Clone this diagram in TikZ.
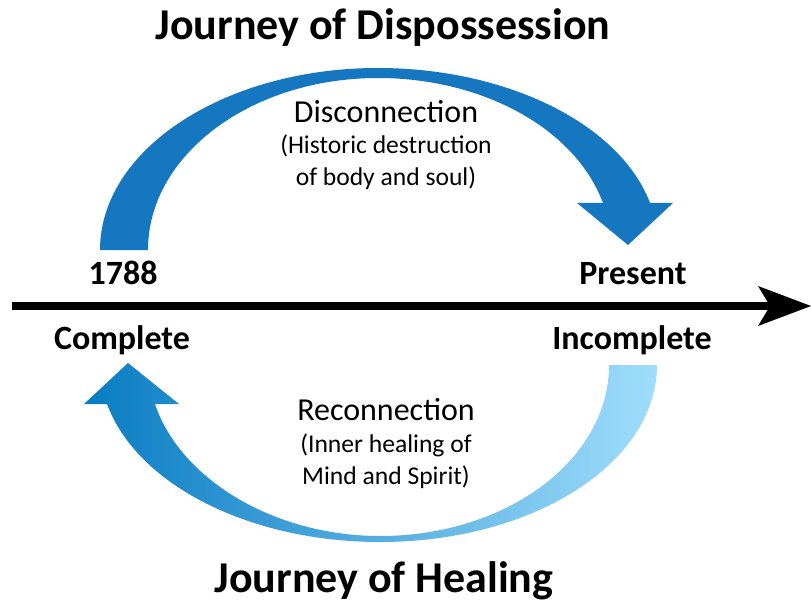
\documentclass[tikz,border=0pt]{standalone}
\usepackage{fontspec}
\setmainfont{Carlito}
\definecolor{topblue}{RGB}{21,119,192}
\definecolor{botdark}{RGB}{8,124,194}
\definecolor{botmid}{RGB}{35,158,218}
\definecolor{botlight}{RGB}{160,221,252}
\tikzset{
  title/.style={font=\fontsize{44}{50}\selectfont\bfseries, anchor=base, inner sep=0pt},
  lbl/.style={font=\fontsize{34}{40}\selectfont\bfseries, anchor=base, inner sep=0pt},
  head/.style={font=\fontsize{32}{38}\selectfont, anchor=base, inner sep=0pt},
  sub/.style={font=\fontsize{25.6}{31}\selectfont, anchor=base, inner sep=0pt}
}
\begin{document}
\begin{tikzpicture}[x=1pt,y=-1pt]
\useasboundingbox (0,0) rectangle (811,604);
% top arrow
\fill[topblue] (100,250) .. controls (100,149.5) and (224.5,68) .. (378,68)
  .. controls (507,68) and (620,124) .. (650,203) -- (673,203) -- (628,245)
  -- (577,203) -- (603,203) .. controls (575,128) and (482,78) .. (378,78)
  .. controls (251,78) and (148,155) .. (148,250) -- cycle;
% bottom arrow
\shade[left color=botdark, middle color=botmid, right color=botlight]
  (657,365) .. controls (657,463) and (533.5,542) .. (380,542)
  .. controls (250,542) and (137,485) .. (107,404) -- (84,404) -- (128,363)
  -- (179,404) -- (155,404) .. controls (180,479) and (274,536) .. (380,536)
  .. controls (507,536) and (609,459.4) .. (609,365) -- cycle;
% axis
\coordinate (axL) at (12,306);
\coordinate (axR) at (772,306);
\coordinate (axT) at (811,306);
\draw[line width=7.5pt] (axL) -- (axR);
\fill (axT) -- (758,286) -- (770,306) -- (758,326) -- cycle;
% texts
\node[title] (t1) at (383,40) {Journey of Dispossession};
\node[title] (t2) at (384,592) {Journey of Healing};
\node[lbl] (y1788) at (123,284) {1788};
\node[lbl] (pres) at (633,284) {Present};
\node[lbl] (comp) at (122,349) {Complete};
\node[lbl] (incomp) at (632,349) {Incomplete};
\node[head] (disc) at (386,123) {Disconnection};
\node[sub] (disc2) at (386,154) {(Historic destruction};
\node[sub] (disc3) at (386,186) {of body and soul)};
\node[head] (reco) at (386,420) {Reconnection};
\node[sub] (reco2) at (386,452) {(Inner healing of};
\node[sub] (reco3) at (386,484) {Mind and Spirit)};
\end{tikzpicture}
\end{document}
